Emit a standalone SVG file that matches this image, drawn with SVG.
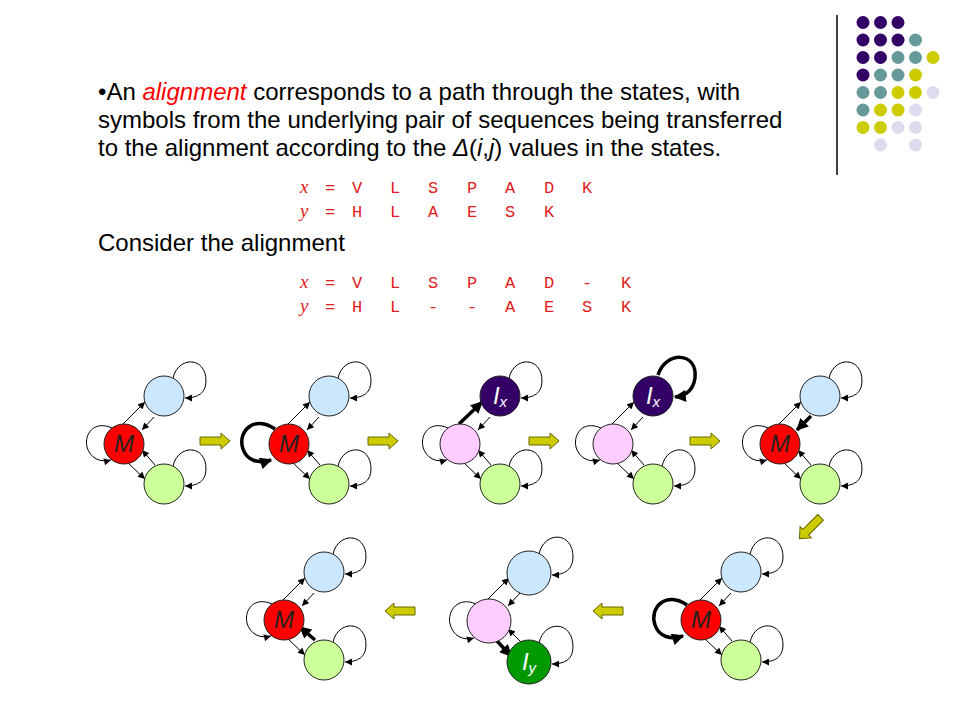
<svg xmlns="http://www.w3.org/2000/svg" xmlns:xlink="http://www.w3.org/1999/xlink" width="960" height="720" viewBox="0 0 960 720">
<style>
.t{font-family:"Liberation Sans",Arial,sans-serif;font-size:24px;fill:#000}
.sq{font-family:"Liberation Mono","Courier New",monospace;font-size:17px;fill:#e02020}
.vi{font-family:"Liberation Serif","Times New Roman",serif;font-style:italic;font-size:19px}
.ln{stroke:#000;stroke-width:1;fill:none;marker-end:url(#ah)}
.bd{stroke:#000;stroke-width:3.5;fill:none;marker-end:url(#ahb)}
.nd{stroke:#222;stroke-width:1}
.red{fill:#ff0000}.blu{fill:#cce8ff}.grn{fill:#ccff99}.pnk{fill:#ffccff}.pur{fill:#330066}.dgr{fill:#009900}
.lbM{font-family:"Liberation Sans",Arial,sans-serif;font-style:italic;font-size:24px;text-anchor:middle;fill:#222}
.lbI{font-family:"Liberation Sans",Arial,sans-serif;font-style:italic;font-size:24px;text-anchor:middle;fill:#fff}
.ya{fill:#cccc00;stroke:#666600;stroke-width:1}
.P{fill:#330066}.T{fill:#669999}.Y{fill:#cccc00}.L{fill:#dcdcee}
</style>
<defs>
<marker id="ah" viewBox="0 0 10 10" refX="10" refY="5" markerWidth="8" markerHeight="7" markerUnits="userSpaceOnUse" orient="auto"><path d="M0,0 L10,5 L0,10 z" fill="#000"/></marker>
<marker id="ahb" viewBox="0 0 10 10" refX="9" refY="5" markerWidth="13" markerHeight="12" markerUnits="userSpaceOnUse" orient="auto"><path d="M0,0 L10,5 L0,10 z" fill="#000"/></marker>
<path id="yar" class="ya" d="M-15,-4 H6 V-8 L15,0 L6,8 V4 H-15 Z"/>
</defs>

<g id="decoration">
<line x1="837" y1="15" x2="837" y2="175" stroke="#000" stroke-width="1.5"/>
<g>
<circle class="P" cx="863" cy="22.5" r="6.5"/><circle class="P" cx="880.5" cy="22.5" r="6.5"/><circle class="P" cx="898" cy="22.5" r="6.5"/>
<circle class="P" cx="863" cy="40" r="6.5"/><circle class="P" cx="880.5" cy="40" r="6.5"/><circle class="P" cx="898" cy="40" r="6.5"/><circle class="T" cx="915.5" cy="40" r="6.5"/>
<circle class="P" cx="863" cy="57.5" r="6.5"/><circle class="P" cx="880.5" cy="57.5" r="6.5"/><circle class="T" cx="898" cy="57.5" r="6.5"/><circle class="T" cx="915.5" cy="57.5" r="6.5"/><circle class="Y" cx="933" cy="57.5" r="6.5"/>
<circle class="P" cx="863" cy="75" r="6.5"/><circle class="T" cx="880.5" cy="75" r="6.5"/><circle class="T" cx="898" cy="75" r="6.5"/><circle class="Y" cx="915.5" cy="75" r="6.5"/>
<circle class="T" cx="863" cy="92.5" r="6.5"/><circle class="T" cx="880.5" cy="92.5" r="6.5"/><circle class="Y" cx="898" cy="92.5" r="6.5"/><circle class="Y" cx="915.5" cy="92.5" r="6.5"/><circle class="L" cx="933" cy="92.5" r="6.5"/>
<circle class="T" cx="863" cy="110" r="6.5"/><circle class="Y" cx="880.5" cy="110" r="6.5"/><circle class="Y" cx="898" cy="110" r="6.5"/><circle class="L" cx="915.5" cy="110" r="6.5"/>
<circle class="Y" cx="863" cy="127.5" r="6.5"/><circle class="Y" cx="880.5" cy="127.5" r="6.5"/><circle class="L" cx="898" cy="127.5" r="6.5"/><circle class="L" cx="915.5" cy="127.5" r="6.5"/>
<circle class="L" cx="880.5" cy="145" r="6.5"/><circle class="L" cx="915.5" cy="145" r="6.5"/>
</g>
</g>

<g id="text">
<text class="t" x="98" y="100">•An <tspan fill="#ff0000" font-style="italic">alignment</tspan> corresponds to a path through the states, with</text>
<text class="t" x="98" y="128">symbols from the underlying pair of sequences being transferred</text>
<text class="t" x="98" y="156">to the alignment according to the <tspan font-style="italic">Δ</tspan>(<tspan font-style="italic">i</tspan>,<tspan font-style="italic">j</tspan>) values in the states.</text>
<text class="t" x="98" y="251">Consider the alignment</text>
<text class="sq" y="193"><tspan x="300" class="vi">x</tspan> <tspan x="325">=</tspan> <tspan x="352">V</tspan> <tspan x="390">L</tspan> <tspan x="428">S</tspan> <tspan x="467">P</tspan> <tspan x="505">A</tspan> <tspan x="544">D</tspan> <tspan x="582">K</tspan></text>
<text class="sq" y="217"><tspan x="300" class="vi">y</tspan> <tspan x="325">=</tspan> <tspan x="352">H</tspan> <tspan x="390">L</tspan> <tspan x="428">A</tspan> <tspan x="467">E</tspan> <tspan x="505">S</tspan> <tspan x="544">K</tspan></text>
<text class="sq" y="288"><tspan x="300" class="vi">x</tspan> <tspan x="325">=</tspan> <tspan x="352">V</tspan> <tspan x="390">L</tspan> <tspan x="428">S</tspan> <tspan x="467">P</tspan> <tspan x="505">A</tspan> <tspan x="544">D</tspan> <tspan x="582">-</tspan> <tspan x="621">K</tspan></text>
<text class="sq" y="312"><tspan x="300" class="vi">y</tspan> <tspan x="325">=</tspan> <tspan x="352">H</tspan> <tspan x="390">L</tspan> <tspan x="428">-</tspan> <tspan x="467">-</tspan> <tspan x="505">A</tspan> <tspan x="544">E</tspan> <tspan x="582">S</tspan> <tspan x="621">K</tspan></text>
</g>

<g id="step-arrows">
<use xlink:href="#yar" transform="translate(215,441)"/>
<use xlink:href="#yar" transform="translate(383,441)"/>
<use xlink:href="#yar" transform="translate(544,441)"/>
<use xlink:href="#yar" transform="translate(705,441)"/>
<use xlink:href="#yar" transform="translate(810,528) rotate(135)"/>
<use xlink:href="#yar" transform="translate(608,611) rotate(180)"/>
<use xlink:href="#yar" transform="translate(400,611) rotate(180)"/>
</g>

<!-- Diagram 1 -->
<g id="d1" transform="translate(124,444)">
<g id="d1-connectors">
<path class="ln" d="M49,-66 C54,-88 82,-88 82,-63 C82,-51 74,-46 61,-46"/>
<path class="ln" d="M49,22 C54,0 82,0 82,25 C82,37 74,42 61,42"/>
<path class="ln" d="M-12,-16 C-30,-24 -40,-10 -37,3 C-34,14 -24,19 -13,16"/>
<path class="ln" d="M-1,-20 L21,-42"/>
<path class="ln" d="M30,-27 L18,-14"/>
<path class="ln" d="M4,19 L21,35"/>
<path class="ln" d="M31,21 L18,6"/>
</g>
<g id="d1-M"><circle class="nd red" r="20"/><text class="lbM" y="8">M</text></g>
<g id="d1-X"><circle class="nd blu" cx="40" cy="-48" r="20"/></g>
<g id="d1-Y"><circle class="nd grn" cx="40" cy="40" r="20"/></g>
</g>

<!-- Diagram 2 -->
<g id="d2" transform="translate(289,444)">
<g id="d2-connectors">
<path class="ln" d="M49,-66 C54,-88 82,-88 82,-63 C82,-51 74,-46 61,-46"/>
<path class="ln" d="M49,22 C54,0 82,0 82,25 C82,37 74,42 61,42"/>
<path class="bd" d="M-14,-15 C-35,-30 -52,-12 -46,5 C-42,17 -30,20 -18,16"/>
<path class="ln" d="M-1,-20 L21,-42"/>
<path class="ln" d="M30,-27 L18,-14"/>
<path class="ln" d="M4,19 L21,35"/>
<path class="ln" d="M31,21 L18,6"/>
</g>
<g id="d2-M"><circle class="nd red" r="20"/><text class="lbM" y="8">M</text></g>
<g id="d2-X"><circle class="nd blu" cx="40" cy="-48" r="20"/></g>
<g id="d2-Y"><circle class="nd grn" cx="40" cy="40" r="20"/></g>
</g>

<!-- Diagram 3 -->
<g id="d3" transform="translate(460,444)">
<g id="d3-connectors">
<path class="ln" d="M49,-66 C54,-88 82,-88 82,-63 C82,-51 74,-46 61,-46"/>
<path class="ln" d="M49,22 C54,0 82,0 82,25 C82,37 74,42 61,42"/>
<path class="ln" d="M-12,-16 C-30,-24 -40,-10 -37,3 C-34,14 -24,19 -13,16"/>
<path class="bd" d="M-1,-20 L22,-42"/>
<path class="ln" d="M30,-27 L18,-14"/>
<path class="ln" d="M4,19 L21,35"/>
<path class="ln" d="M31,21 L18,6"/>
</g>
<g id="d3-M"><circle class="nd pnk" r="20"/></g>
<g id="d3-X"><circle class="nd pur" cx="40" cy="-48" r="20"/><text class="lbI" x="40" y="-40">I<tspan font-size="15" dy="3">x</tspan></text></g>
<g id="d3-Y"><circle class="nd grn" cx="40" cy="40" r="20"/></g>
</g>

<!-- Diagram 4 -->
<g id="d4" transform="translate(613,444)">
<g id="d4-connectors">
<path class="bd" d="M45,-69 C52,-93 85,-93 82,-66 C80,-53 72,-48 62,-47"/>
<path class="ln" d="M49,22 C54,0 82,0 82,25 C82,37 74,42 61,42"/>
<path class="ln" d="M-12,-16 C-30,-24 -40,-10 -37,3 C-34,14 -24,19 -13,16"/>
<path class="ln" d="M-1,-20 L21,-42"/>
<path class="ln" d="M30,-27 L18,-14"/>
<path class="ln" d="M4,19 L21,35"/>
<path class="ln" d="M31,21 L18,6"/>
</g>
<g id="d4-M"><circle class="nd pnk" r="20"/></g>
<g id="d4-X"><circle class="nd pur" cx="40" cy="-48" r="20"/><text class="lbI" x="40" y="-40">I<tspan font-size="15" dy="3">x</tspan></text></g>
<g id="d4-Y"><circle class="nd grn" cx="40" cy="40" r="20"/></g>
</g>

<!-- Diagram 5 -->
<g id="d5" transform="translate(780,444)">
<g id="d5-connectors">
<path class="ln" d="M49,-66 C54,-88 82,-88 82,-63 C82,-51 74,-46 61,-46"/>
<path class="ln" d="M49,22 C54,0 82,0 82,25 C82,37 74,42 61,42"/>
<path class="ln" d="M-12,-16 C-30,-24 -40,-10 -37,3 C-34,14 -24,19 -13,16"/>
<path class="ln" d="M-1,-20 L21,-42"/>
<path class="bd" d="M31,-28 L17,-14"/>
<path class="ln" d="M4,19 L21,35"/>
<path class="ln" d="M31,21 L18,6"/>
</g>
<g id="d5-M"><circle class="nd red" r="20"/><text class="lbM" y="8">M</text></g>
<g id="d5-X"><circle class="nd blu" cx="40" cy="-48" r="20"/></g>
<g id="d5-Y"><circle class="nd grn" cx="40" cy="40" r="20"/></g>
</g>

<!-- Diagram 6 -->
<g id="d6" transform="translate(701,620)">
<g id="d6-connectors">
<path class="ln" d="M49,-66 C54,-88 82,-88 82,-63 C82,-51 74,-46 61,-46"/>
<path class="ln" d="M49,22 C54,0 82,0 82,25 C82,37 74,42 61,42"/>
<path class="bd" d="M-14,-15 C-35,-30 -52,-12 -46,5 C-42,17 -30,20 -18,16"/>
<path class="ln" d="M-1,-20 L21,-42"/>
<path class="ln" d="M30,-27 L18,-14"/>
<path class="ln" d="M4,19 L21,35"/>
<path class="ln" d="M31,21 L18,6"/>
</g>
<g id="d6-M"><circle class="nd red" r="20"/><text class="lbM" y="8">M</text></g>
<g id="d6-X"><circle class="nd blu" cx="40" cy="-48" r="20"/></g>
<g id="d6-Y"><circle class="nd grn" cx="40" cy="40" r="20"/></g>
</g>

<!-- Diagram 7 -->
<g id="d7" transform="translate(489,621)">
<g id="d7-connectors">
<path class="ln" d="M50,-67 C55,-90 84,-90 84,-64 C84,-52 76,-46 63,-46"/>
<path class="ln" d="M50,22 C55,-1 84,-1 84,26 C84,38 76,43 63,43"/>
<path class="ln" d="M-13,-17 C-31,-25 -42,-10 -39,3 C-36,15 -26,20 -15,17"/>
<path class="ln" d="M-1,-22 L20,-43"/>
<path class="ln" d="M31,-28 L19,-15"/>
<path class="bd" d="M8,20 L22,35"/>
<path class="ln" d="M32,21 L19,8"/>
</g>
<g id="d7-M"><circle class="nd pnk" r="22"/></g>
<g id="d7-X"><circle class="nd blu" cx="40" cy="-48" r="22"/></g>
<g id="d7-Y"><circle class="nd dgr" cx="40" cy="41" r="22"/><text class="lbI" x="40" y="49">I<tspan font-size="15" dy="3">y</tspan></text></g>
</g>

<!-- Diagram 8 -->
<g id="d8" transform="translate(284,620)">
<g id="d8-connectors">
<path class="ln" d="M49,-66 C54,-88 82,-88 82,-63 C82,-51 74,-46 61,-46"/>
<path class="ln" d="M49,22 C54,0 82,0 82,25 C82,37 74,42 61,42"/>
<path class="ln" d="M-12,-16 C-30,-24 -40,-10 -37,3 C-34,14 -24,19 -13,16"/>
<path class="ln" d="M-1,-20 L21,-42"/>
<path class="ln" d="M30,-27 L18,-14"/>
<path class="ln" d="M4,19 L21,35"/>
<path class="bd" d="M31,20 L16,7"/>
</g>
<g id="d8-M"><circle class="nd red" r="20"/><text class="lbM" y="8">M</text></g>
<g id="d8-X"><circle class="nd blu" cx="40" cy="-48" r="20"/></g>
<g id="d8-Y"><circle class="nd grn" cx="40" cy="40" r="20"/></g>
</g>
</svg>
